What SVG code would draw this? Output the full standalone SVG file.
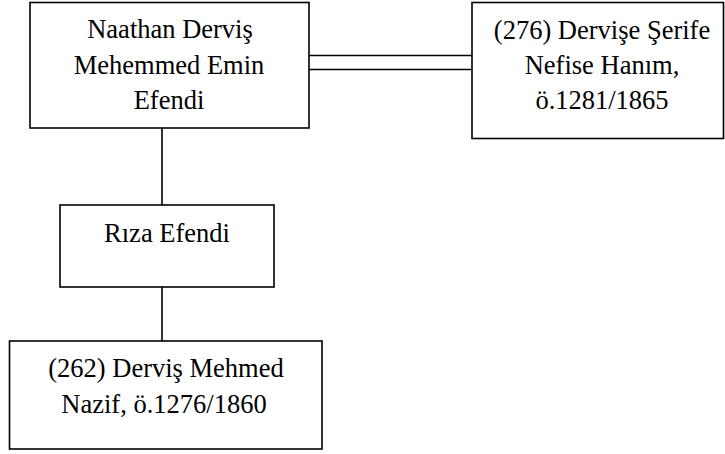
<svg xmlns="http://www.w3.org/2000/svg" width="725" height="454" viewBox="0 0 725 454">
<style>
.box{fill:#fff;stroke:#000;stroke-width:1.6}
.ln{stroke:#000;stroke-width:1.6;fill:none}
text{font-family:"Liberation Serif","Times New Roman",serif;font-size:26.5px;fill:#000;text-anchor:middle}
</style>
<rect width="725" height="454" fill="#fff"/>
<g id="connectors">
<line class="ln" x1="309" y1="55.5" x2="472" y2="55.5"/>
<line class="ln" x1="309" y1="69.5" x2="472" y2="69.5"/>
<line class="ln" x1="162" y1="128" x2="162" y2="205"/>
<line class="ln" x1="162" y1="287" x2="162" y2="341"/>
</g>
<g id="node-naathan">
<rect class="box" x="30" y="2.5" width="279" height="125.5"/>
<text x="170" y="38">Naathan Derviş</text>
<text x="169" y="73.5">Mehemmed Emin</text>
<text x="169" y="109">Efendi</text>
</g>
<g id="node-dervise">
<rect class="box" x="472" y="2.5" width="251.5" height="136"/>
<text x="602" y="39">(276) Dervişe Şerife</text>
<text x="602" y="73.5">Nefise Hanım,</text>
<text x="602" y="109">ö.1281/1865</text>
</g>
<g id="node-riza">
<rect class="box" x="60" y="205" width="214" height="82"/>
<text x="167" y="242">Rıza Efendi</text>
</g>
<g id="node-dervis">
<rect class="box" x="9.5" y="341" width="312.5" height="108"/>
<text x="166" y="377">(262) Derviş Mehmed</text>
<text x="164" y="413">Nazif, ö.1276/1860</text>
</g>
</svg>
